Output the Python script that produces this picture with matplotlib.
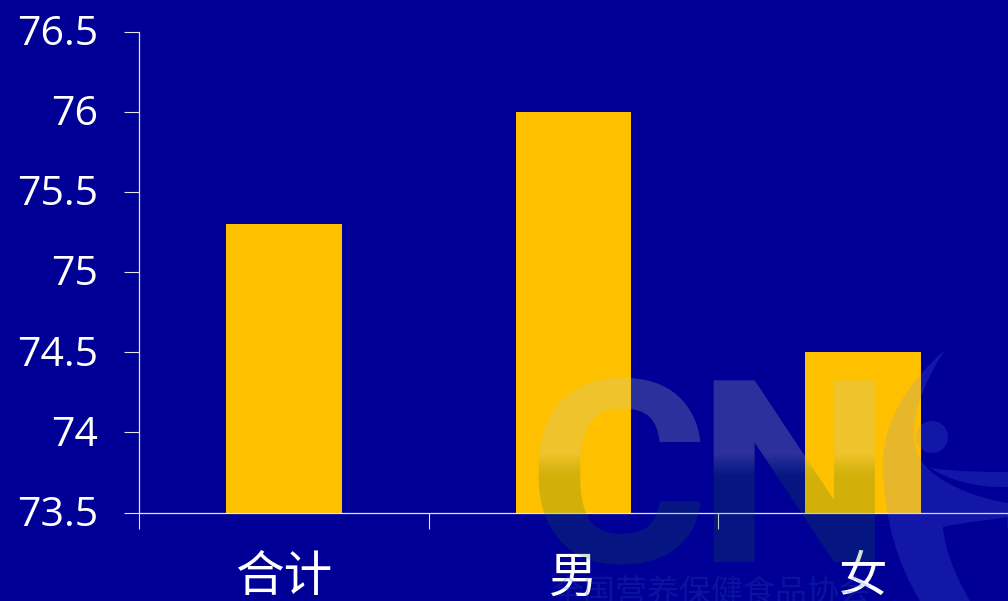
import matplotlib
matplotlib.use('Agg')
import matplotlib.pyplot as plt
import numpy as np
from matplotlib.patches import Circle, PathPatch
from matplotlib.patheffects import AbstractPathEffect
from matplotlib.path import Path
from matplotlib.transforms import Affine2D, Bbox, ScaledTranslation

groups = ['合计', '男', '女']
life_exp = [75.3, 76, 74.5]
y_ticks = [73.5, 74, 74.5, 75, 75.5, 76, 76.5]
y_labels = ['73.5', '74', '74.5', '75', '75.5', '76', '76.5']

BG = '#000096'
BAR = '#FFC000'
AXIS = '#E4E4F0'
FIG_H = 601


class GlossFill(AbstractPathEffect):
    # fills a glyph in thin horizontal bands so it fades from light to dark
    def __init__(self, stretch=1.0, band=3):
        super().__init__()
        self.stretch = stretch
        self.band = band

    def draw_path(self, renderer, gc, tpath, affine, rgbFace=None):
        top = np.array([187, 205, 180, 61]) / 255
        low = np.array([30, 115, 50, 51]) / 255
        trans = Affine2D().scale(self.stretch, 1) + affine
        for y0 in range(368, 576, self.band):
            t = np.clip((y0 - 452) / 22, 0, 1)
            c = top + (low - top) * t
            gc0 = renderer.new_gc()
            gc0.copy_properties(gc)
            gc0.set_clip_rectangle(Bbox([[0, FIG_H - y0 - self.band], [1008, FIG_H - y0]]))
            gc0.set_alpha(c[3])
            gc0.set_linewidth(0)
            renderer.draw_path(gc0, tpath, trans, tuple(c[:3]) + (c[3],))
            gc0.restore()


fig = plt.figure(figsize=(10.08, 6.01), dpi=100, facecolor=BG)
ax = fig.add_axes([139.3 / 1008, (FIG_H - 512.6) / FIG_H, 868.2 / 1008, 481 / FIG_H])
ax.set_facecolor(BG)

x = np.arange(len(groups)) + 0.5
ax.bar(x, life_exp, width=0.4, color=BAR, zorder=2)
ax.set_xlim(0, 3)
ax.set_ylim(73.5, 76.5)

for s in ['top', 'right']:
    ax.spines[s].set_visible(False)
for s in ['left', 'bottom']:
    ax.spines[s].set_color(AXIS)
    ax.spines[s].set_linewidth(0.9)
    ax.spines[s].set_zorder(3)

ax.set_yticks(y_ticks, y_labels, family='Open Sans', fontsize=29.5, color='white')
ax.tick_params(axis='y', length=10.5, width=0.8, color=AXIS, pad=19)
nudge = ScaledTranslation(0, 2 / 72 * 0.72, fig.dpi_scale_trans)
for lbl in ax.get_yticklabels():
    lbl.set_transform(lbl.get_transform() + nudge)
ax.set_xticks([0, 1, 2, 3], [])
ax.tick_params(axis='x', which='major', length=11.5, width=0.8, color=AXIS)
ax.set_xticks(x, groups, minor=True, family='Noto Sans CJK SC', weight='light', fontsize=35, color='white')
ax.tick_params(axis='x', which='minor', length=0, pad=29)

# logo overlay, in pixel coordinates
logo = fig.add_axes([0, 0, 1, 1], zorder=5)
logo.set_xlim(0, 1008)
logo.set_ylim(FIG_H, 0)
logo.axis('off')

for letter, px in [('C', 527), ('N', 696)]:
    logo.text(px, 562, letter, family='Roboto', weight='bold', fontsize=184,
              ha='left', va='baseline', path_effects=[GlossFill(stretch=1.09)])

# swoosh figure next to the letters
swoosh = Path(
    [(945, 350), (905, 385), (882, 425), (883, 467), (884, 520), (898, 565), (920, 601),
     (970, 601), (955, 575), (945, 550), (943, 527), (965, 522), (990, 520), (1008, 517),
     (1008, 503), (970, 497), (935, 480), (923, 463), (905, 440), (915, 395), (945, 350)],
    [Path.MOVETO, Path.CURVE4, Path.CURVE4, Path.CURVE4, Path.CURVE4, Path.CURVE4, Path.CURVE4,
     Path.LINETO, Path.CURVE4, Path.CURVE4, Path.CURVE4, Path.CURVE4, Path.CURVE4, Path.CURVE4,
     Path.LINETO, Path.CURVE4, Path.CURVE4, Path.CURVE4, Path.CURVE4, Path.CURVE4, Path.CURVE4])
arm = Path([(930, 468), (960, 472), (985, 472), (1008, 472), (1008, 487), (975, 488), (950, 480), (930, 468)],
           [Path.MOVETO, Path.CURVE4, Path.CURVE4, Path.CURVE4, Path.LINETO, Path.CURVE4, Path.CURVE4, Path.CURVE4])
for p in [swoosh, arm]:
    logo.add_patch(PathPatch(p, fc=(0.42, 0.55, 1.0), ec='none', alpha=0.17))
logo.add_patch(Circle((932, 437), 16, fc=(0.42, 0.55, 1.0), ec='none', alpha=0.17))

logo.text(711, 593, '全国营养保健食品协会', family='Noto Sans CJK SC', fontsize=23,
          color=(0.2, 0.35, 0.75), alpha=0.22, ha='center', va='center')

fig.savefig('out.png', dpi=100, facecolor=BG)
